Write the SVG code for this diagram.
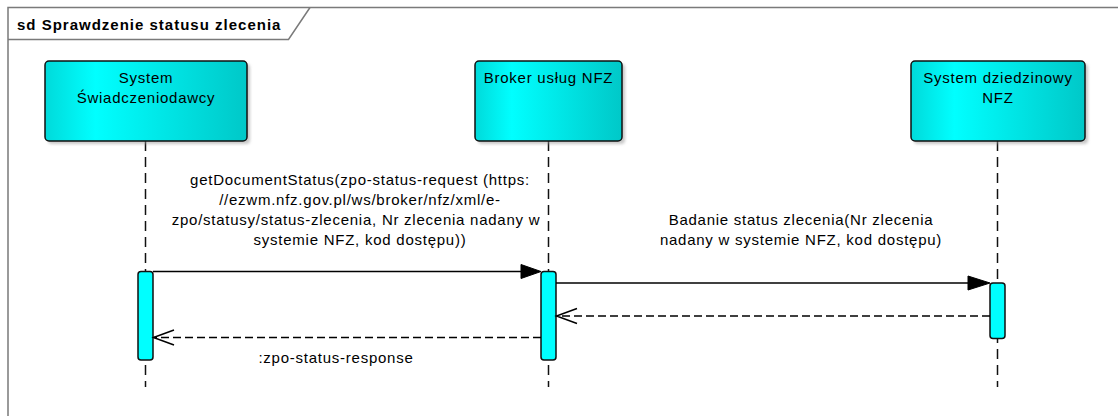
<svg xmlns="http://www.w3.org/2000/svg" width="1118" height="416" viewBox="0 0 1118 416">
<defs>
<linearGradient id="cy" x1="0" y1="0" x2="1" y2="0">
<stop offset="0" stop-color="#00DADA"/>
<stop offset="0.25" stop-color="#00FFFF"/>
<stop offset="1" stop-color="#00C8C8"/>
</linearGradient>
<filter id="blur" x="-10%" y="-10%" width="120%" height="130%"><feGaussianBlur stdDeviation="1.5"/></filter>
</defs>
<style>
.t{font-family:"Liberation Sans",Arial,sans-serif;font-size:15px;fill:#000;letter-spacing:0.75px;text-anchor:middle}
.title{font-family:"Liberation Sans",Arial,sans-serif;font-size:15px;font-weight:bold;fill:#000;letter-spacing:1px}
.frame{fill:none;stroke:#7a7a7a;stroke-width:1.5}
.box{fill:url(#cy);stroke:#111;stroke-width:1.5}
.shadow{fill:#9a9a9a;opacity:0.55;filter:url(#blur)}
.life{stroke:#111;stroke-width:1.5;stroke-dasharray:10 6;fill:none}
.act{fill:#00FFFF;stroke:#111;stroke-width:1.5}
.msg{stroke:#000;stroke-width:1.5;fill:none}
.ret{stroke:#000;stroke-width:1.5;fill:none;stroke-dasharray:8 4}
.head{fill:#000;stroke:#000;stroke-width:1}
.open{fill:none;stroke:#000;stroke-width:1.5}
</style>
<rect width="1118" height="416" fill="#fff"/>
<g id="frame">
<path class="frame" d="M8,417 V7.5 H1119"/>
<path class="frame" d="M8,39.5 H288.5 L310,7.5"/>
<text class="title" x="17" y="30">sd Sprawdzenie statusu zlecenia</text>
</g>
<g id="lifelines">
<line class="life" x1="145.5" y1="141" x2="145.5" y2="387"/>
<line class="life" x1="548.5" y1="141" x2="548.5" y2="387"/>
<line class="life" x1="997.5" y1="141" x2="997.5" y2="387"/>
</g>
<g id="node-system-swiadczeniodawcy">
<rect class="shadow" x="48" y="64" width="202" height="80" rx="4"/>
<rect class="box" x="45" y="61" width="202" height="80" rx="4"/>
<text class="t" x="146" y="83">System</text>
<text class="t" x="146" y="103">Świadczeniodawcy</text>
</g>
<g id="node-broker">
<rect class="shadow" x="478" y="64" width="147" height="80" rx="4"/>
<rect class="box" x="475" y="61" width="147" height="80" rx="4"/>
<text class="t" x="548.5" y="83">Broker usług NFZ</text>
</g>
<g id="node-system-dziedzinowy">
<rect class="shadow" x="914" y="64" width="174" height="80" rx="4"/>
<rect class="box" x="911" y="61" width="174" height="80" rx="4"/>
<text class="t" x="998" y="83">System dziedzinowy</text>
<text class="t" x="998" y="103">NFZ</text>
</g>
<g id="activations">
<rect class="act" x="138" y="271.5" width="15" height="88.5" rx="3"/>
<rect class="act" x="541" y="271.5" width="15" height="88.5" rx="3"/>
<rect class="act" x="990" y="283" width="15" height="55.5" rx="3"/>
</g>
<g id="connectors">
<g id="msg1">
<line class="msg" x1="153" y1="271.5" x2="522" y2="271.5"/>
<polygon class="head" points="541,271.5 521,264.5 521,278.5"/>
<text class="t" x="360" y="185">getDocumentStatus(zpo-status-request (https:</text>
<text class="t" x="360" y="205">//ezwm.nfz.gov.pl/ws/broker/nfz/xml/e-</text>
<text class="t" x="356" y="225">zpo/statusy/status-zlecenia, Nr zlecenia nadany w</text>
<text class="t" x="360" y="245">systemie NFZ, kod dostępu))</text>
</g>
<g id="msg2">
<line class="msg" x1="556" y1="283" x2="970" y2="283"/>
<polygon class="head" points="990,283 968,276 968,290"/>
<text class="t" x="801" y="225">Badanie status zlecenia(Nr zlecenia</text>
<text class="t" x="801" y="245">nadany w systemie NFZ, kod dostępu)</text>
</g>
<g id="ret1">
<line class="ret" x1="990" y1="316" x2="557" y2="316"/>
<polyline class="open" points="577,308.5 556.5,316 577,323.5"/>
</g>
<g id="ret2">
<line class="ret" x1="541" y1="337.5" x2="154" y2="337.5"/>
<polyline class="open" points="174,330 153.5,337.5 174,345"/>
<text class="t" x="336" y="363">:zpo-status-response</text>
</g>
</g>
</svg>
